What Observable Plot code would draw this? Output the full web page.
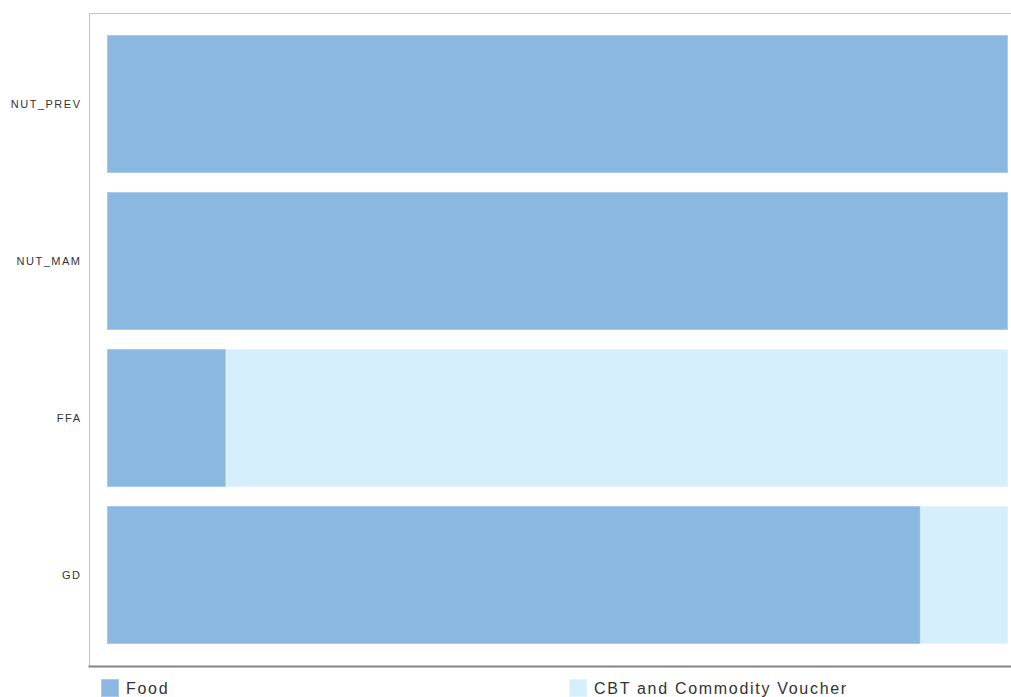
<!DOCTYPE html>
<html>
<head>
<meta charset="utf-8">
<script src="https://cdn.jsdelivr.net/npm/d3@7"></script>
<script src="https://cdn.jsdelivr.net/npm/@observablehq/plot@0.6"></script>
<style>
  html, body { margin: 0; padding: 0; background: #fff; overflow: hidden; }
  #chart { width: 1011px; }
  #legend { position: relative; height: 27px; width: 1011px; font-family: "Liberation Sans", Arial, sans-serif; font-size: 16px; letter-spacing: 1.7px; color: #333; }
  .item { position: absolute; top: 9px; display: flex; align-items: flex-start; }
  .sw { width: 18px; height: 18px; box-sizing: border-box; margin-right: 7px; margin-top: 0px; }
  .lbl { line-height: 18px; margin-top: 1px; }
</style>
</head>
<body>
<div id="chart"></div>
<div id="legend"></div>
<script>
const categories = ["NUT_PREV", "NUT_MAM", "FFA", "GD"];
const foodShare = [100, 100, 13.2, 90.3];
const cbtShare = [0, 0, 86.8, 9.7];
const seriesNames = ["Food", "CBT and Commodity Voucher"];
const seriesColors = ["#8bb8e1", "#d5effc"];
const seriesBorders = ["#a9cbea", "#e2f4fd"];

const rows = [];
categories.forEach((c, i) => {
  rows.push({category: c, series: seriesNames[0], value: foodShare[i]});
  rows.push({category: c, series: seriesNames[1], value: cbtShare[i]});
});

const chart = Plot.plot({
  width: 1011,
  height: 670,
  marginTop: 13,
  marginLeft: 89,
  marginRight: 0,
  marginBottom: 4,
  style: {fontFamily: "'Liberation Sans', Arial, sans-serif", background: "#fff"},
  x: {domain: [0, 1], insetLeft: 18, insetRight: 3, axis: null},
  y: {domain: categories, padding: 0.121, insetTop: 3, insetBottom: 3, label: null},
  color: {domain: seriesNames, range: seriesColors},
  marks: [
    Plot.frame({anchor: "top", stroke: "#c4c4c4"}),
    Plot.frame({anchor: "left", stroke: "#c4c4c4"}),
    Plot.barX(rows, Plot.stackX({
      offset: "normalize",
      order: seriesNames,
      x: "value",
      y: "category",
      fill: "series",
      stroke: d => seriesBorders[seriesNames.indexOf(d.series)],
      strokeWidth: 1,
      inset: 0.5
    })),
    Plot.axisY({tickSize: 0, tickPadding: 8, fontSize: 11, fill: "#333", label: null}),
    Plot.frame({anchor: "bottom", stroke: "#858585", strokeWidth: 2})
  ]
});
chart.querySelectorAll("g[aria-label='y-axis tick label'] text, g[aria-label='y-axis tick label']").forEach(el => el.style.letterSpacing = "1.5px");
document.getElementById("chart").appendChild(chart);

const legend = document.getElementById("legend");
const lefts = [101, 569];
seriesNames.forEach((name, i) => {
  const item = document.createElement("div");
  item.className = "item";
  item.style.left = lefts[i] + "px";
  const sw = document.createElement("div");
  sw.className = "sw";
  sw.style.background = seriesColors[i];
  sw.style.border = "1px solid " + seriesBorders[i];
  const lbl = document.createElement("div");
  lbl.className = "lbl";
  lbl.textContent = name;
  item.appendChild(sw);
  item.appendChild(lbl);
  legend.appendChild(item);
});
</script>
</body>
</html>
